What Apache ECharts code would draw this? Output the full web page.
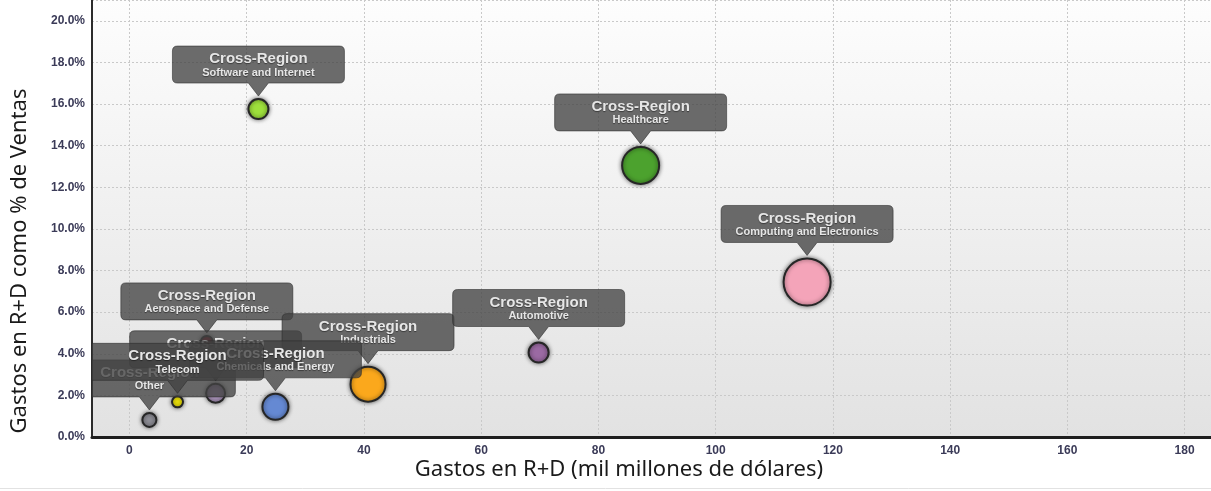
<!DOCTYPE html>
<html><head><meta charset="utf-8">
<script src="https://cdn.jsdelivr.net/npm/echarts@6/dist/echarts.min.js"></script>
<style>html,body{margin:0;padding:0;background:#fff}#c{width:1211px;height:491px}</style>
</head><body><div id="c"></div>
<script>
// Data (drawing order: earlier items lie underneath later ones)
const sectors = ['Aerospace and Defense','Other','Consumer','Industrials','Chemicals and Energy','Telecom','Automotive','Software and Internet','Healthcare','Computing and Electronics'];
const regionLabel = 'Cross-Region';
const rdSpend = [13.2, 3.4, 14.7, 40.7, 24.9, 8.2, 69.8, 22.0, 87.2, 115.6];      // mil millones de dólares
const rdIntensity = [4.57, 0.82, 2.10, 2.54, 1.45, 1.69, 4.06, 15.76, 13.05, 7.45]; // % de ventas
const bubbleSize = [12, 14, 19, 35, 26, 11, 20, 20, 37, 47];
const sectorColors = ['#8e1b2b','#8e8e96','#a690b6','#fba81c','#6589d3','#f3e80a','#9b6aa3','#9ee03c','#4ca22e','#f4a4b9'];
const xTitle = 'Gastos en R+D (mil millones de dólares)';
const yTitle = 'Gastos en R+D como % de Ventas';

const points = sectors.map((s, i) => [rdSpend[i], rdIntensity[i], bubbleSize[i], i]);

const chart = echarts.init(document.getElementById('c'), null, {renderer: 'canvas'});
const tickColor = '#3b3b58';
const gridLine = {show: true, lineStyle: {color: '#c9c9c9', type: [2, 2], width: 1}};

chart.setOption({
  animation: false,
  grid: {
    left: 92, right: -1, top: -1, bottom: 54,
    show: true, borderWidth: 0,
    backgroundColor: new echarts.graphic.LinearGradient(0, 0, 0, 1, [
      {offset: 0, color: '#fdfdfd'}, {offset: 1, color: '#e2e2e2'}
    ])
  },
  xAxis: {
    type: 'value', min: -6.39, max: 184.5, minInterval: 20, maxInterval: 20,
    axisLine: {show: true, onZero: false, lineStyle: {color: '#1e1e1e', width: 3}},
    axisTick: {show: false},
    axisLabel: {
      showMinLabel: false, showMaxLabel: false, margin: 8,
      color: tickColor, fontWeight: 'bold', fontSize: 12, fontFamily: '"Liberation Sans Narrow", "Liberation Sans", sans-serif',
      formatter: v => (Math.abs(v % 20) < 1e-6 ? String(v) : '')
    },
    splitLine: gridLine
  },
  yAxis: {
    type: 'value', min: 0, max: 21.0, minInterval: 2, maxInterval: 2,
    axisLine: {show: true, onZero: false, lineStyle: {color: '#2b2b2b', width: 2}},
    axisTick: {show: false},
    axisLabel: {
      showMinLabel: true, showMaxLabel: false, margin: 7,
      color: tickColor, fontWeight: 'bold', fontSize: 12, fontFamily: '"Liberation Sans", sans-serif',
      formatter: v => (Math.abs(v % 2) < 1e-6 ? v.toFixed(1) + '%' : '')
    },
    splitLine: gridLine
  },
  graphic: [
    {type: 'text', x: 619, y: 470, style: {text: xTitle, x: 0, y: 0, fill: '#1a1a1a', font: '22px "Noto Sans", sans-serif', align: 'center', verticalAlign: 'middle', textAlign: 'center', textVerticalAlign: 'middle'}},
    {type: 'text', x: 20, y: 261, rotation: Math.PI / 2, style: {text: yTitle, x: 0, y: 0, fill: '#1a1a1a', font: '22px "Noto Sans", sans-serif', align: 'center', verticalAlign: 'middle', textAlign: 'center', textVerticalAlign: 'middle'}},
    {type: 'line', shape: {x1: 0, y1: 488.5, x2: 1211, y2: 488.5}, style: {stroke: '#e2e2e2', lineWidth: 1}}
  ],
  series: [
    {
      type: 'scatter', z: 2, data: points,
      symbol: 'circle',
      symbolSize: v => v[2],
      itemStyle: {
        color: p => sectorColors[p.dataIndex],
        borderColor: '#262626', borderWidth: 2,
        shadowBlur: 4, shadowColor: 'rgba(0,0,0,0.55)', opacity: 1
      },
      emphasis: {disabled: true}, silent: true
    },
    {
      type: 'custom', z: 3, clip: true, silent: true,
      data: points, encode: {x: 0, y: 1},
      renderItem(params, api) {
        const idx = api.value(3);
        const pt = api.coord([api.value(0), api.value(1)]);
        const r = (api.value(2) + 2) / 2;
        const cs = params.coordSys;
        const cx = pt[0];
        const tipY = pt[1] - r - 2;
        const bb = tipY - 13, bt = bb - 37;
        let l = cx - 86; const rr = cx + 86;
        const rad = 5;
        const clipped = l < cs.x;
        if (clipped) l = cs.x;
        let d = `M${clipped ? l : l + rad},${bt} L${rr - rad},${bt} Q${rr},${bt} ${rr},${bt + rad} L${rr},${bb - rad} Q${rr},${bb} ${rr - rad},${bb} L${cx + 10},${bb} L${cx},${tipY} L${cx - 10},${bb} `;
        d += clipped ? `L${l},${bb} Z` : `L${l + rad},${bb} Q${l},${bb} ${l},${bb - rad} L${l},${bt + rad} Q${l},${bt} ${l + rad},${bt} Z`;
        const txt = (text, y, font) => ({
          type: 'text',
          style: {text, x: cx, y, fill: '#e6e6e6', font, align: 'center', verticalAlign: 'middle', textAlign: 'center', textVerticalAlign: 'middle',
            textShadowColor: 'rgba(0,0,0,0.45)', textShadowBlur: 1, textShadowOffsetY: 1}
        });
        return {
          type: 'group',
          children: [
            {type: 'path', shape: {pathData: d}, style: {fill: 'rgba(66,66,66,0.78)', stroke: 'rgba(40,40,40,0.55)', lineWidth: 1}},
            txt(regionLabel, bt + 13, 'bold 15px "Liberation Sans", Arial, sans-serif'),
            txt(sectors[idx], bt + 26.5, 'bold 11px "Liberation Sans", Arial, sans-serif')
          ]
        };
      }
    }
  ]
});
</script>
</body></html>
